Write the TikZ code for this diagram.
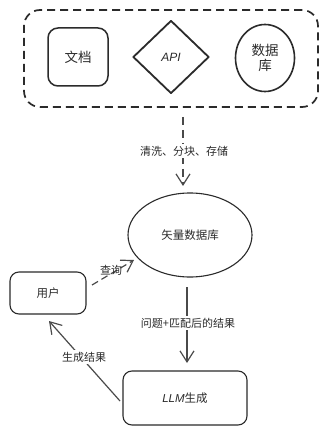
\documentclass[tikz,border=0pt]{standalone}
\usepackage{fontspec}
\newfontfamily\cjk{Noto Sans CJK SC}
\newfontfamily\hand{Liberation Sans}
\usetikzlibrary{shapes.geometric,arrows.meta}
\definecolor{ink}{HTML}{2B2B2B}
\definecolor{lineg}{HTML}{4A4A4A}
\begin{document}
\begin{tikzpicture}[x=1pt,y=-1pt,
  every node/.style={text=ink},
  srcbox/.style={draw=ink,line width=1.5pt,rounded corners=10pt,inner sep=0pt},
  flowbox/.style={draw=ink,line width=1.1pt,rounded corners=9pt,inner sep=0pt},
  lbl/.style={font=\cjk\fontsize{11}{13}\selectfont,inner sep=1.5pt},
  big/.style={font=\cjk\fontsize{13.5}{16}\selectfont},
  conn/.style={draw=lineg,line width=1.2pt,-{Straight Barb[length=11pt,width=14pt,line width=1.2pt]}}]
\useasboundingbox (0,0) rectangle (329,435);
\fill[white] (0,0) rectangle (329,435);
% group
\node[draw=ink,line width=1.7pt,dash pattern=on 8pt off 5pt,rounded corners=16pt,
  minimum width=294pt,minimum height=97pt,inner sep=0pt] (grp) at (171,58.5) {};
\node[srcbox,minimum width=60pt,minimum height=58pt,big] (doc) at (78,57) {文档};
\node[draw=ink,line width=1.8pt,diamond,minimum width=76pt,minimum height=73pt,inner sep=0pt,
  line join=round,font=\hand\itshape\fontsize{12}{14}\selectfont] (api) at (171,57) {API};
\node[draw=ink,line width=1.6pt,ellipse,minimum width=59pt,minimum height=67pt,inner sep=0pt,
  big,align=center] (db) at (265,58) {数据\\[-1pt]库};
% vector db
\node[draw=ink,line width=1.1pt,ellipse,minimum width=124pt,minimum height=84pt,inner sep=0pt,
  font=\cjk\fontsize{11.5}{14}\selectfont] (vdb) at (190,235) {矢量数据库};
\node[flowbox,minimum width=76pt,minimum height=42pt,font=\cjk\fontsize{11.5}{14}\selectfont] (user) at (48,293) {用户};
\node[flowbox,minimum width=124pt,minimum height=54pt,font=\cjk\fontsize{11.5}{14}\selectfont] (llm) at (185,398)
  {{\hand\itshape LLM}生成};
% connectors
\coordinate (a1s) at (183,117);
\coordinate (a1e) at (183,186);
\draw[conn,dash pattern=on 8pt off 5pt] (a1s) -- (a1e);
\node[lbl,fill=white] (l1) at (184,151) {清洗、分块、存储};
\coordinate (a2s) at (92,285);
\coordinate (a2e) at (134,260);
\draw[conn,dash pattern=on 7pt off 4pt] (a2s) -- (a2e);
\node[lbl] (l2) at (111,270) {查询};
\coordinate (a3s) at (187,287);
\coordinate (a3e) at (187,363);
\draw[conn] (a3s) -- (a3e);
\node[lbl,fill=white] (l3) at (188,323) {问题+匹配后的结果};
\coordinate (a4s) at (120,401);
\coordinate (a4e) at (49,321);
\draw[conn] (a4s) -- (a4e);
\node[lbl,fill=white] (l4) at (84,357) {生成结果};
\end{tikzpicture}
\end{document}
